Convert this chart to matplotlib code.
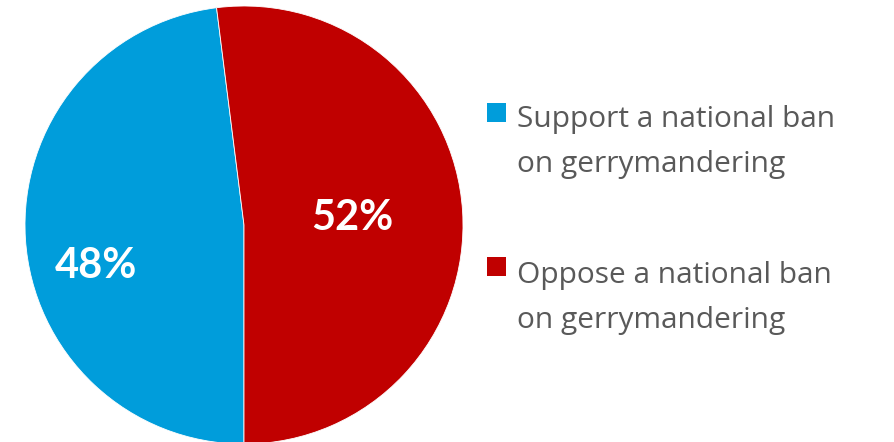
import matplotlib.pyplot as plt
from matplotlib.patches import Rectangle

labels = ['Support a national ban\non gerrymandering', 'Oppose a national ban\non gerrymandering']
values = [48, 52]
colors = ['#009DDB', '#C00000']
pct_pos = [(-0.676, -0.187), (0.493, 0.032)]

W, H = 894, 442
fig = plt.figure(figsize=(W / 100, H / 100), dpi=100)

# pie centre (244, 225) px, radius 219 px
cx, cy, r = 244, 225, 219
ax = fig.add_axes([(cx - r) / W, (H - cy - r) / H, 2 * r / W, 2 * r / H])
start = 270 - 360 * values[0] / sum(values)
ax.pie(values, colors=colors, startangle=start, radius=1,
       wedgeprops=dict(linewidth=0.6, edgecolor='white'))
ax.set_xlim(-1, 1)
ax.set_ylim(-1, 1)
ax.set_aspect('equal')
ax.axis('off')

for v, (x, y) in zip(values, pct_pos):
    ax.text(x, y, f'{v}%', color='white', fontsize=30, fontweight='bold',
            family='Lato', ha='center', va='center')

# legend
leg_y = [112, 266]
base = [127, 283]
for lab, col, y, b in zip(labels, colors, leg_y, base):
    fig.patches.append(Rectangle((487 / W, 1 - (y + 9.5) / H), 19 / W, 19 / H,
                                 transform=fig.transFigure, facecolor=col,
                                 edgecolor='none'))
    line1, line2 = lab.split('\n')
    fig.text(517 / W, 1 - b / H, line1, color='#595959', fontsize=21.5,
             family='Open Sans', va='baseline', ha='left')
    fig.text(517 / W, 1 - (b + 45) / H, line2, color='#595959', fontsize=21.5,
             family='Open Sans', va='baseline', ha='left')

fig.savefig('out.png', dpi=100)
